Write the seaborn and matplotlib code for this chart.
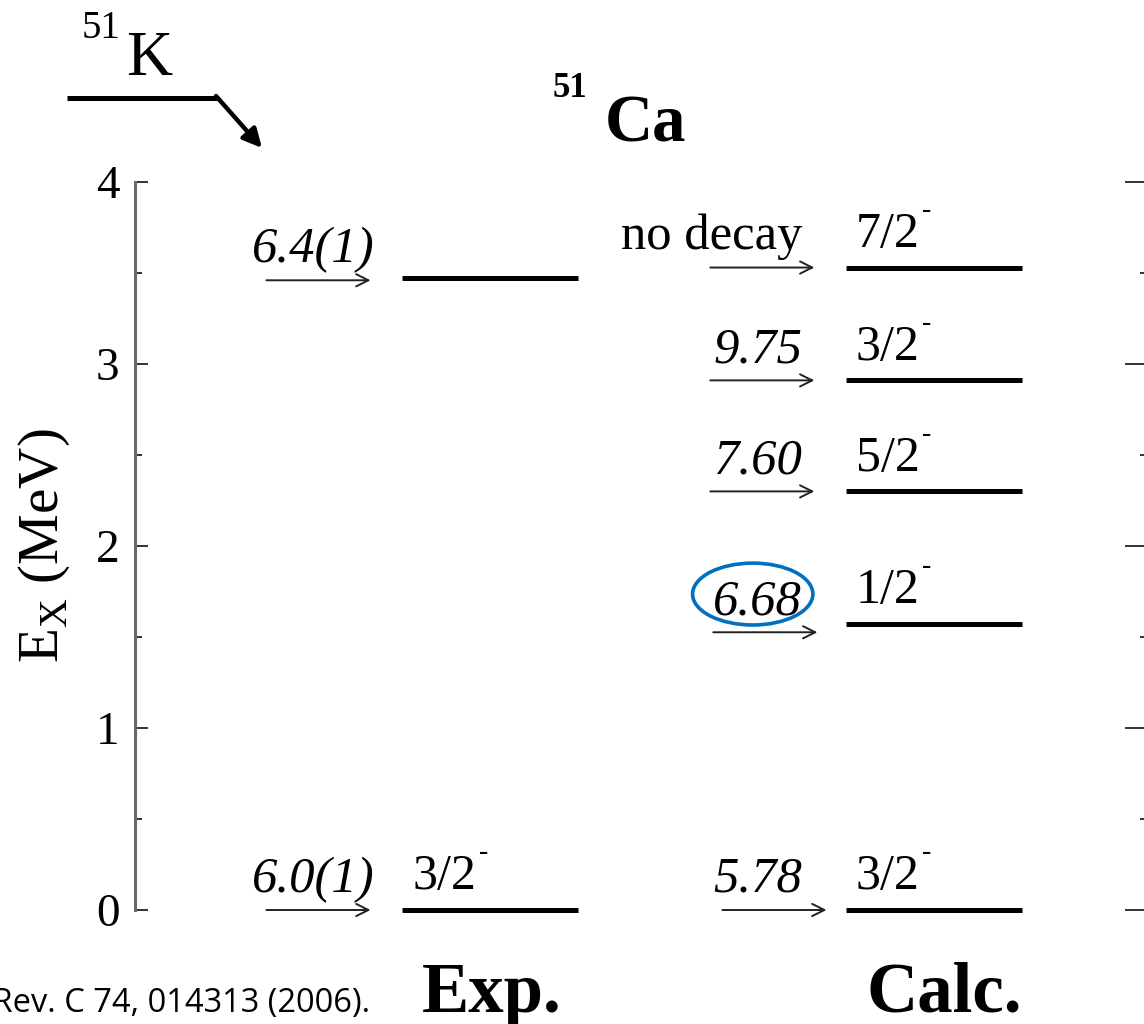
import pandas as pd
import matplotlib.pyplot as plt
import seaborn as sns
from matplotlib.patches import Ellipse

# level scheme data
exp_energy = [0.0, 3.47]
exp_spin = ['3/2', '']
exp_q = ['6.0(1)', '6.4(1)']

calc_energy = [0.0, 1.57, 2.30, 2.91, 3.53]
calc_spin = ['3/2', '1/2', '5/2', '3/2', '7/2']
calc_q = ['5.78', '6.68', '7.60', '9.75', 'no decay']

y_ticks = [0, 1, 2, 3, 4]

sns.set_theme(style='white')
plt.rcParams['font.family'] = ['Liberation Serif', 'DejaVu Serif']
plt.rcParams['mathtext.fontset'] = 'custom'
plt.rcParams['mathtext.rm'] = 'Liberation Serif'
for k in ['text.color', 'axes.labelcolor', 'xtick.color', 'ytick.color']:
    plt.rcParams[k] = 'black'

# column layout (x units, axis runs 0..10)
columns = {'Exp.': 3.51, 'Calc.': 7.90}
half_w = 0.87
q_gap = {'Exp.': 0.27, 'Calc.': 0.43}
# small hand-drawn offsets of some feeding arrows in the original (dx, dE)
arrow_nudge = {('Calc.', 0): (0.12, 0.0), ('Calc.', 1): (0.03, -0.044),
               ('Exp.', 1): (0.0, -0.01)}

rows = []
lid = 0
for col, energies in [('Exp.', exp_energy), ('Calc.', calc_energy)]:
    for e in energies:
        c = columns[col]
        rows.append({'col': col, 'lid': lid, 'x': c - half_w, 'E': e})
        rows.append({'col': col, 'lid': lid, 'x': c + half_w, 'E': e})
        lid += 1
df = pd.DataFrame(rows)

fig = plt.figure(figsize=(11.44, 10.24), dpi=100)
ax = fig.add_axes([135 / 1144, 114 / 1024, 1011 / 1144, 728 / 1024])

sns.lineplot(data=df, x='x', y='E', units='lid', estimator=None,
             color='black', lw=3.6, ax=ax, legend=False)
for ln in ax.lines:
    ln.set_clip_on(False)
    ln.set_solid_capstyle('butt')

ax.set_xlim(0, 10)
ax.set_ylim(0, 4)
ax.set_xticks([])
ax.set_xlabel('')
ax.set_ylabel('')
ax.set_yticks(y_ticks)
ax.set_yticks([0.5, 1.5, 2.5, 3.5], minor=True)
ax.set_yticklabels([str(t) for t in y_ticks], fontsize=34)
for s in ['top', 'right', 'bottom']:
    ax.spines[s].set_visible(False)
ax.spines['left'].set_color('#6a6a6a')
ax.spines['left'].set_linewidth(2.2)
ax.tick_params(axis='y', which='major', direction='in', length=9.4, width=1.4,
               color='#333333', pad=11, left=True)
ax.tick_params(axis='y', which='minor', direction='in', length=5, width=1.4,
               color='#333333', left=True)

# ticks of the neighbouring panel at the right edge
ax2 = ax.twinx()
ax2.set_ylim(0, 4)
ax2.set_yticks(y_ticks)
ax2.set_yticks([0.5, 1.5, 2.5, 3.5], minor=True)
for s in ax2.spines.values():
    s.set_visible(False)
ax2.tick_params(axis='y', which='major', direction='in', length=15, width=1.4,
                color='#333333', labelright=False, right=True)
ax2.tick_params(axis='y', which='minor', direction='in', length=4.3, width=1.4,
                color='#333333', labelright=False, right=True)
ax2.grid(False)


def draw_column(col, energies, spins, qvals, label_dx):
    start = columns[col] - half_w
    for i, (e, sp, q) in enumerate(zip(energies, spins, qvals)):
        dx, de = arrow_nudge.get((col, i), (0.0, 0.0))
        # feeding arrow
        ax.annotate('', xy=(start - 0.31 + dx, e + de),
                    xytext=(start - 1.34 + dx, e + de),
                    arrowprops=dict(arrowstyle='->', lw=1.4, color='#222222',
                                    mutation_scale=22, shrinkA=0, shrinkB=0))
        style = 'normal' if q == 'no decay' else 'italic'
        ax.annotate(q, xy=(start - q_gap[col], e + de), xytext=(0, 13),
                    textcoords='offset points', ha='right', va='baseline',
                    fontsize=36.5, style=style)
        if sp:
            t = ax.annotate(sp, xy=(start + 0.1, e), xytext=(0, 15),
                            textcoords='offset points', ha='left',
                            va='baseline', fontsize=36)
            ax.annotate('-', xy=(1, 1), xycoords=t, xytext=(2, -4),
                        textcoords='offset points', ha='left',
                        va='baseline', fontsize=20)
    ax.text(columns[col] + label_dx, -0.140, col,
            transform=ax.get_xaxis_transform(),
            ha='center', va='baseline', fontsize=51, fontweight='bold')


draw_column('Exp.', exp_energy, exp_spin, exp_q, 0.02)
draw_column('Calc.', calc_energy, calc_spin, calc_q, 0.1)

# highlight around 6.68
ax.add_patch(Ellipse((6.11, 1.736), 1.19, 0.34, fill=False,
                     edgecolor='#0070C0', lw=2.6, clip_on=False))

# axis label
fig.text(44 / 1144, 1 - 546 / 1024, r'E$_{\rm X}$ (MeV)', rotation=90,
         ha='center', va='center', fontsize=41)

# nucleus title
fig.text(553 / 1144, 1 - 97 / 1024, '51', fontsize=25, fontweight='bold',
         ha='left', va='baseline')
fig.text(605 / 1144, 1 - 142 / 1024, 'Ca', fontsize=48, fontweight='bold',
         ha='left', va='baseline')

# parent nucleus with beta-decay arrow
fig.text(82 / 1144, 1 - 38 / 1024, '51', fontsize=28, ha='left', va='baseline')
fig.text(126 / 1144, 1 - 75 / 1024, 'K', fontsize=46, ha='left', va='baseline')
fig.add_artist(plt.Line2D([67 / 1144, 218 / 1144], [1 - 98 / 1024] * 2,
                          color='black', lw=3.6, solid_capstyle='butt'))
ax.annotate('', xy=(262, 1024 - 148), xytext=(216, 1024 - 96),
            xycoords='figure pixels', textcoords='figure pixels',
            arrowprops=dict(arrowstyle='-|>', lw=3.2, color='black',
                            mutation_scale=28, shrinkA=0, shrinkB=0))

# reference
fig.text(370 / 1144, 1 - 1012 / 1024, 'Phys. Rev. C 74, 014313 (2006).',
         family='Open Sans', fontsize=23.5, ha='right', va='baseline')

fig.savefig('out.png', dpi=100)
